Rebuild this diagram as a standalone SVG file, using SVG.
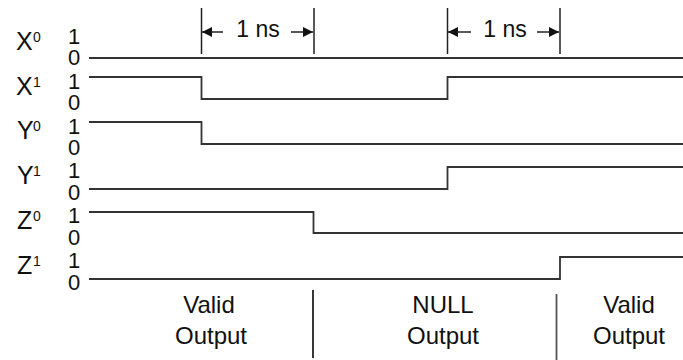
<svg xmlns="http://www.w3.org/2000/svg" width="683" height="360" viewBox="0 0 683 360">
<style>
text{font-family:"Liberation Sans",Arial,sans-serif;fill:#111}
.lbl{font-size:25px}
.sup{font-size:14px}
.dig{font-size:22px;text-anchor:middle}
.big{font-size:24px;text-anchor:middle}
.sig{fill:none;stroke:#333;stroke-width:1.8}
.dim{fill:none;stroke:#222;stroke-width:1.5}
.sep{fill:none;stroke:#222;stroke-width:1.8}
</style>
<defs>
<marker id="ah" viewBox="0 0 10 10" refX="10" refY="5" markerWidth="11" markerHeight="10" markerUnits="userSpaceOnUse" orient="auto">
<path d="M0,0 L10,5 L0,10 Z" fill="#111"/>
</marker>
</defs>
<g id="labels">
<text class="lbl" x="16" y="50">X</text><text class="sup" x="33" y="42">0</text>
<text class="lbl" x="16" y="95">X</text><text class="sup" x="33" y="87">1</text>
<text class="lbl" x="17" y="139">Y</text><text class="sup" x="33" y="131">0</text>
<text class="lbl" x="17" y="184">Y</text><text class="sup" x="33" y="176">1</text>
<text class="lbl" x="17" y="229">Z</text><text class="sup" x="33" y="221">0</text>
<text class="lbl" x="17" y="274">Z</text><text class="sup" x="33" y="266">1</text>
</g>
<g id="levels">
<text class="dig" x="74" y="44">1</text><text class="dig" x="74" y="65">0</text>
<text class="dig" x="74" y="89">1</text><text class="dig" x="74" y="110">0</text>
<text class="dig" x="74" y="134">1</text><text class="dig" x="74" y="155">0</text>
<text class="dig" x="74" y="178">1</text><text class="dig" x="74" y="200">0</text>
<text class="dig" x="74" y="223">1</text><text class="dig" x="74" y="245">0</text>
<text class="dig" x="74" y="268">1</text><text class="dig" x="74" y="290">0</text>
</g>
<g id="signals">
<path class="sig" d="M89,58 H683"/>
<path class="sig" d="M89,77 H201.5 V99 H447.5 V77 H683"/>
<path class="sig" d="M89,122 H201.5 V144 H683"/>
<path class="sig" d="M89,189 H447.5 V167 H683"/>
<path class="sig" d="M89,212 H313.5 V233 H683"/>
<path class="sig" d="M89,279 H560 V257 H683"/>
</g>
<g id="dimensions">
<path class="dim" d="M201.5,8 V54 M314,8 V54 M447.5,8 V54 M560,8 V54"/>
<path class="dim" d="M223,32 H202" marker-end="url(#ah)"/>
<path class="dim" d="M291,32 H313" marker-end="url(#ah)"/>
<path class="dim" d="M471,32 H448" marker-end="url(#ah)"/>
<path class="dim" d="M537,32 H559" marker-end="url(#ah)"/>
<text class="big" x="258" y="37" style="font-size:23px">1 ns</text>
<text class="big" x="505" y="37" style="font-size:23px">1 ns</text>
</g>
<g id="phases">
<path class="sep" d="M313,290 V358"/>
<path class="sep" d="M556.5,294 V360" style="stroke:#555"/>
<text class="big" x="209" y="313">Valid</text>
<text class="big" x="211" y="344">Output</text>
<text class="big" x="443" y="313">NULL</text>
<text class="big" x="443" y="344">Output</text>
<text class="big" x="629" y="313">Valid</text>
<text class="big" x="629" y="344">Output</text>
</g>
</svg>
